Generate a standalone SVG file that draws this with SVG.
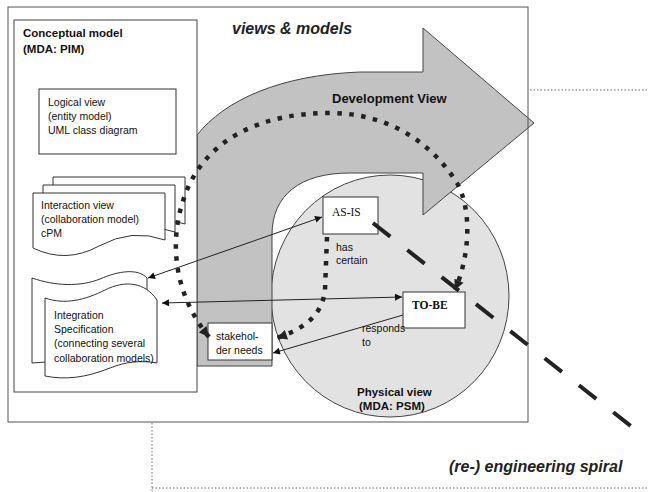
<svg xmlns="http://www.w3.org/2000/svg" width="649" height="492" viewBox="0 0 649 492">
  <style>
    .frame { fill: none; stroke: #555; stroke-width: 1; }
    .box { fill: #fff; stroke: #333; stroke-width: 1; }
    .t { font-family: "Liberation Sans", Arial, sans-serif; font-size: 10.5px; fill: #111; }
    .b { font-family: "Liberation Sans", Arial, sans-serif; font-weight: bold; fill: #111; }
    .bi { font-family: "Liberation Sans", Arial, sans-serif; font-weight: bold; font-style: italic; fill: #222; font-size: 16px; }
    .serif { font-family: "Liberation Serif", "Times New Roman", serif; font-size: 11.5px; fill: #111; }
    .dots { fill: none; stroke: #666; stroke-width: 1; stroke-dasharray: 1.5 2; }
    .link { fill: none; stroke: #222; stroke-width: 1; }
    .spiral { fill: none; stroke: #222; stroke-width: 4.5; stroke-dasharray: 4.5 7.5; }
    .dash { fill: none; stroke: #222; stroke-width: 4; stroke-dasharray: 22 21.7; }
  </style>
  <defs>
    <marker id="arr" viewBox="0 0 10 10" refX="10" refY="5" markerWidth="8" markerHeight="7" markerUnits="userSpaceOnUse" orient="auto-start-reverse">
      <path d="M0,0 L10,5 L0,10 Z" fill="#111"/>
    </marker>
    <marker id="arrBig" viewBox="0 0 10 10" refX="10" refY="5" markerWidth="11" markerHeight="10" markerUnits="userSpaceOnUse" orient="auto-start-reverse">
      <path d="M0,0 L10,5 L0,10 Z" fill="#222"/>
    </marker>
  </defs>

  <rect width="649" height="492" fill="#fff"/>

  <!-- outer spiral boundary (dotted) -->
  <path class="dots" d="M530,90 H649"/>
  <path class="dots" d="M152,423 V492"/>
  <path class="dots" d="M152,488 H649"/>

  <!-- physical view disc -->
  <g id="physical-view">
    <ellipse cx="390" cy="296" rx="119" ry="121" fill="#e2e2e2" stroke="#444" stroke-width="1"/>
    <text class="b" font-size="11.5" x="357" y="396">Physical view</text>
    <text class="b" font-size="11.5" x="359" y="410">(MDA: PSM)</text>
  </g>

  <!-- development view arrow -->
  <g id="development-view">
    <path d="M197,135 C225,100 280,75 360,72 L423,72 L423,28 L534,123 L423,215 L423,173 L350,173 C300,173 272,195 272,235 L272,366 L197,366 Z" fill="#c2c2c2" stroke="#444" stroke-width="1"/>
    <text class="b" font-size="13" x="332" y="103">Development View</text>
  </g>

  <!-- views & models frame -->
  <g id="views-models">
    <rect class="frame" x="8" y="7" width="520" height="415"/>
    <text class="bi" x="232" y="34">views &amp; models</text>
  </g>

  <g id="conceptual-model">
    <rect x="14" y="20" width="183" height="372" fill="#fff" stroke="#444" stroke-width="1"/>
    <text class="b" font-size="11.5" x="23" y="37">Conceptual model</text>
    <text class="b" font-size="11.5" x="23" y="53">(MDA: PIM)</text>
  </g>

  <g id="logical-view">
    <rect class="box" x="39" y="89" width="137" height="65"/>
    <text class="t" x="48" y="106">Logical view</text>
    <text class="t" x="48" y="120">(entity model)</text>
    <text class="t" x="48" y="134">UML class diagram</text>
  </g>

  <g id="interaction-view">
    <path class="box" transform="translate(20,-16)" d="M33,193 H165 V240 Q132,228 99,246 Q66,264 33,248 Z"/>
    <path class="box" transform="translate(10,-8)" d="M33,193 H165 V240 Q132,228 99,246 Q66,264 33,248 Z"/>
    <path class="box" d="M33,193 H165 V240 Q132,228 99,246 Q66,264 33,248 Z"/>
    <text class="t" x="41" y="209">Interaction view</text>
    <text class="t" x="41" y="223">(collaboration model)</text>
    <text class="t" x="41" y="237">cPM</text>
  </g>

  <g id="integration-specification">
    <path class="box" d="M32,278 C55,286 80,287 100,279 C118,271 138,268 147,278 L147,355 L32,363 Z"/>
    <path class="box" d="M45,298 C65,305 85,300 105,290 C125,280 145,282 157,300 L157,363 C140,360 125,362 110,368 C85,378 65,380 45,376 Z"/>
    <text class="t" x="54" y="319">Integration</text>
    <text class="t" x="54" y="333">Specification</text>
    <text class="t" x="54" y="347">(connecting several</text>
    <text class="t" x="54" y="362">collaboration models)</text>
  </g>

  <g id="as-is">
    <rect class="box" x="323" y="197" width="55" height="37"/>
    <text class="serif" x="332" y="216">AS-IS</text>
  </g>

  <g id="to-be">
    <rect class="box" x="403" y="292" width="62" height="36"/>
    <text class="serif" font-weight="bold" x="412" y="309">TO-BE</text>
  </g>

  <g id="stakeholder-needs">
    <rect class="box" x="208" y="323" width="64" height="37"/>
    <text class="t" x="216" y="340">stakehol-</text>
    <text class="t" x="216" y="354">der needs</text>
  </g>

  <g id="connectors">
    <!-- integration spec <-> AS-IS -->
    <path class="link" d="M148,278 L322,217" marker-start="url(#arr)" marker-end="url(#arr)"/>
    <!-- integration spec <-> TO-BE -->
    <path class="link" d="M162,303 L402,297" marker-start="url(#arr)" marker-end="url(#arr)"/>
    <!-- TO-BE responds to stakeholder needs -->
    <path class="link" d="M403,315 L273,353" marker-end="url(#arr)"/>
    <text class="t" x="362" y="332">responds</text>
    <text class="t" x="362" y="346">to</text>
    <!-- AS-IS has certain stakeholder needs -->
    <path class="spiral" d="M327,237 L325,290 C322,318 300,330 277,338" marker-end="url(#arrBig)"/>
    <text class="t" x="336" y="251">has</text>
    <text class="t" x="336" y="264">certain</text>
    <!-- development spiral from stakeholder needs to TO-BE -->
    <path class="spiral" d="M209,337 C180,302 165,250 185,195 C205,140 260,113 330,113 C385,113 430,140 457,183 C472,210 470,255 455,290" marker-start="url(#arrBig)" marker-end="url(#arrBig)"/>
    <!-- re-engineering spiral -->
    <path class="dash" d="M373,223 L632,427"/>
  </g>

  <text class="bi" x="449" y="472">(re-) engineering spiral</text>
</svg>
